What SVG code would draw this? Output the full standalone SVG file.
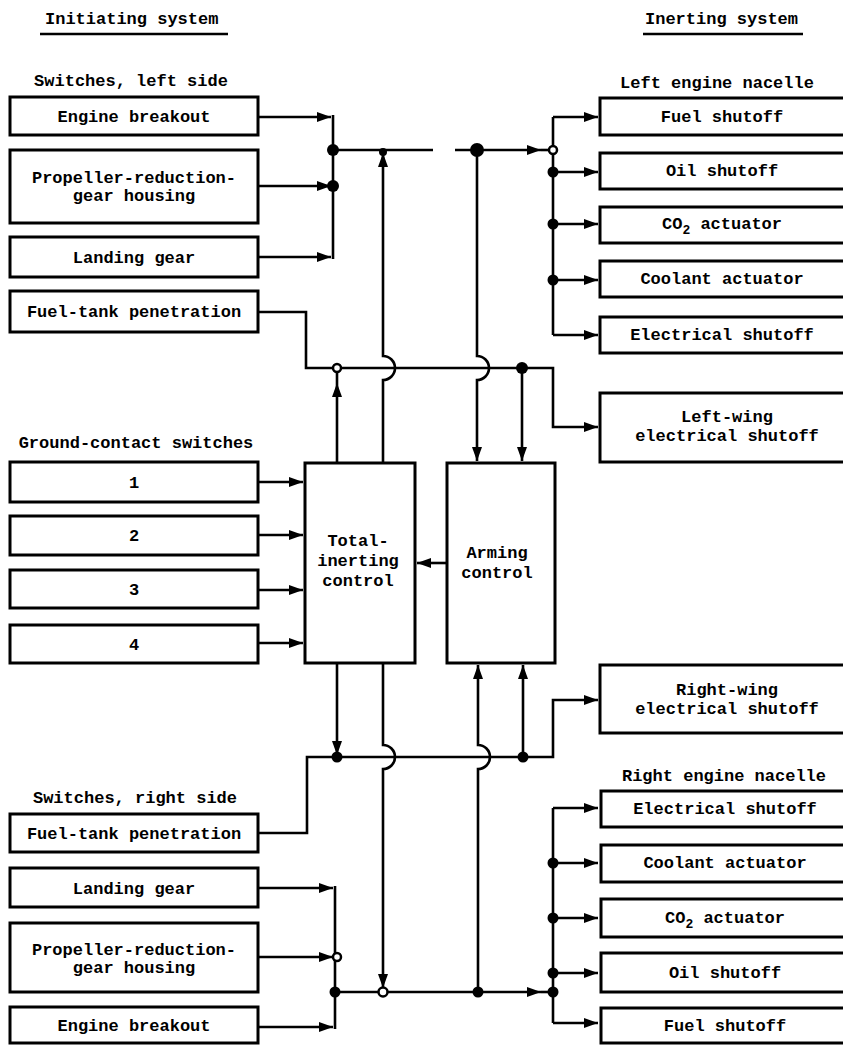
<svg xmlns="http://www.w3.org/2000/svg" width="843" height="1046" viewBox="0 0 843 1046">
<style>
text{font-family:"Liberation Mono","DejaVu Sans Mono",monospace;font-weight:bold;font-size:17px;fill:#000}
.m{text-anchor:middle}
.box{fill:#fff;stroke:#000;stroke-width:3}
.ln{fill:none;stroke:#000;stroke-width:2.6}
.dot{fill:#000}
.oc{fill:#fff;stroke:#000;stroke-width:2.5}
</style>
<defs>
<marker id="ar" viewBox="0 0 14 10" refX="14" refY="5" markerWidth="14" markerHeight="10" markerUnits="userSpaceOnUse" orient="auto">
<path d="M0,0 L14,5 L0,10 Z" fill="#000"/>
</marker>
</defs>
<rect width="843" height="1046" fill="#fff"/>

<g id="headers">
<text x="45" y="24">Initiating system</text>
<line x1="40" y1="34" x2="228" y2="34" stroke="#000" stroke-width="2.5"/>
<text x="645" y="24">Inerting system</text>
<line x1="643" y1="34" x2="803" y2="34" stroke="#000" stroke-width="2.5"/>
<text class="m" x="131" y="86">Switches, left side</text>
<text class="m" x="717" y="88">Left engine nacelle</text>
<text class="m" x="136" y="448">Ground-contact switches</text>
<text class="m" x="135" y="803">Switches, right side</text>
<text class="m" x="724" y="781">Right engine nacelle</text>
</g>

<g id="connectors">
<!-- top left inputs -->
<path class="ln" d="M258,117 H331" marker-end="url(#ar)"/>
<path class="ln" d="M258,186 H331" marker-end="url(#ar)"/>
<path class="ln" d="M258,257 H331" marker-end="url(#ar)"/>
<path class="ln" d="M333,115 V259"/>
<path class="ln" d="M333,150 H433"/>
<path class="ln" d="M455,150 H541" marker-end="url(#ar)"/>
<path class="ln" d="M541,150 H553"/>
<!-- left nacelle bus -->
<path class="ln" d="M553,117 V335"/>
<path class="ln" d="M553,117 H598" marker-end="url(#ar)"/>
<path class="ln" d="M553,172 H598" marker-end="url(#ar)"/>
<path class="ln" d="M553,224 H598" marker-end="url(#ar)"/>
<path class="ln" d="M553,280 H598" marker-end="url(#ar)"/>
<path class="ln" d="M553,335 H598" marker-end="url(#ar)"/>
<!-- vertical from total-inerting up -->
<path class="ln" d="M383,463 V380 A12,12 0 0 0 383,356 V153" marker-end="url(#ar)"/>
<!-- vertical down to arming -->
<path class="ln" d="M477,150 V356 A12,12 0 0 1 477,380 V461" marker-end="url(#ar)"/>
<path class="ln" d="M522,368 V461" marker-end="url(#ar)"/>
<!-- upper horizontal bus -->
<path class="ln" d="M258,312 H306 V368 H553 V427 H598" marker-end="url(#ar)"/>
<path class="ln" d="M337,463 V383" marker-end="url(#ar)"/>
<path class="ln" d="M337,383 V372"/>
<!-- ground contact switches -->
<path class="ln" d="M258,482 H303" marker-end="url(#ar)"/>
<path class="ln" d="M258,535 H303" marker-end="url(#ar)"/>
<path class="ln" d="M258,590 H303" marker-end="url(#ar)"/>
<path class="ln" d="M258,643 H303" marker-end="url(#ar)"/>
<!-- arming to total -->
<path class="ln" d="M447,563 H417" marker-end="url(#ar)"/>
<!-- lower part -->
<path class="ln" d="M337,663 V755" marker-end="url(#ar)"/>
<path class="ln" d="M383,663 V745 A12,12 0 0 1 383,769 V988" marker-end="url(#ar)"/>
<path class="ln" d="M258,833 H307 V757 H553 V700 H598" marker-end="url(#ar)"/>
<path class="ln" d="M478,992 V769 A12,12 0 0 0 478,745 V665" marker-end="url(#ar)"/>
<path class="ln" d="M523,757 V665" marker-end="url(#ar)"/>
<!-- bottom left inputs -->
<path class="ln" d="M258,888 H333" marker-end="url(#ar)"/>
<path class="ln" d="M258,957 H333" marker-end="url(#ar)"/>
<path class="ln" d="M258,1027 H333" marker-end="url(#ar)"/>
<path class="ln" d="M335,886 V1029"/>
<path class="ln" d="M335,992 H541" marker-end="url(#ar)"/>
<path class="ln" d="M541,992 H553"/>
<!-- right nacelle bus -->
<path class="ln" d="M553,808 V1023"/>
<path class="ln" d="M553,808 H598" marker-end="url(#ar)"/>
<path class="ln" d="M553,863 H598" marker-end="url(#ar)"/>
<path class="ln" d="M553,918 H598" marker-end="url(#ar)"/>
<path class="ln" d="M553,973 H598" marker-end="url(#ar)"/>
<path class="ln" d="M553,1023 H598" marker-end="url(#ar)"/>
<!-- junction dots -->
<circle class="dot" cx="333" cy="150" r="6"/>
<circle class="dot" cx="333" cy="186" r="6"/>
<circle class="dot" cx="383" cy="152" r="4"/>
<circle class="dot" cx="477" cy="150" r="7"/>
<circle class="oc" cx="553" cy="150" r="4"/>
<circle class="dot" cx="553" cy="172" r="5.5"/>
<circle class="dot" cx="553" cy="224" r="5.5"/>
<circle class="dot" cx="553" cy="280" r="5.5"/>
<circle class="oc" cx="337" cy="368" r="4"/>
<circle class="dot" cx="522" cy="368" r="6"/>
<circle class="dot" cx="337" cy="757" r="5.5"/>
<circle class="dot" cx="523" cy="757" r="5.5"/>
<circle class="oc" cx="337" cy="957" r="4"/>
<circle class="dot" cx="335" cy="992" r="5.5"/>
<circle class="oc" cx="383" cy="992" r="4.5"/>
<circle class="dot" cx="478" cy="992" r="5.5"/>
<circle class="dot" cx="553" cy="992" r="5.5"/>
<circle class="dot" cx="553" cy="863" r="5.5"/>
<circle class="dot" cx="553" cy="918" r="5.5"/>
<circle class="dot" cx="553" cy="973" r="5.5"/>
</g>

<g id="n-engine-breakout-l"><rect class="box" x="10" y="97" width="248" height="38"/><text class="m" x="134" y="122">Engine breakout</text></g>
<g id="n-propeller-l"><rect class="box" x="10" y="150" width="248" height="73"/><text class="m" x="134" y="183">Propeller-reduction-</text><text class="m" x="134" y="201">gear housing</text></g>
<g id="n-landing-gear-l"><rect class="box" x="10" y="237" width="248" height="40"/><text class="m" x="134" y="263">Landing gear</text></g>
<g id="n-fuel-tank-l"><rect class="box" x="10" y="291" width="248" height="41"/><text class="m" x="134" y="317">Fuel-tank penetration</text></g>

<g id="n-gc1"><rect class="box" x="10" y="462" width="248" height="40"/><text class="m" x="134" y="488">1</text></g>
<g id="n-gc2"><rect class="box" x="10" y="516" width="248" height="39"/><text class="m" x="134" y="541">2</text></g>
<g id="n-gc3"><rect class="box" x="10" y="570" width="248" height="38"/><text class="m" x="134" y="595">3</text></g>
<g id="n-gc4"><rect class="box" x="10" y="625" width="248" height="38"/><text class="m" x="134" y="650">4</text></g>

<g id="n-total-inerting"><rect class="box" x="305" y="463" width="110" height="200"/><text class="m" x="358" y="546">Total-</text><text class="m" x="358" y="566">inerting</text><text class="m" x="358" y="586">control</text></g>
<g id="n-arming"><rect class="box" x="447" y="463" width="108" height="200"/><text class="m" x="497" y="558">Arming</text><text class="m" x="497" y="578">control</text></g>

<g id="n-fuel-tank-r"><rect class="box" x="10" y="814" width="248" height="38"/><text class="m" x="134" y="839">Fuel-tank penetration</text></g>
<g id="n-landing-gear-r"><rect class="box" x="10" y="868" width="248" height="39"/><text class="m" x="134" y="894">Landing gear</text></g>
<g id="n-propeller-r"><rect class="box" x="10" y="923" width="248" height="69"/><text class="m" x="134" y="955">Propeller-reduction-</text><text class="m" x="134" y="973">gear housing</text></g>
<g id="n-engine-breakout-r"><rect class="box" x="10" y="1007" width="248" height="36"/><text class="m" x="134" y="1031">Engine breakout</text></g>

<g id="n-fuel-shutoff-l"><rect class="box" x="600" y="98" width="260" height="37"/><text class="m" x="722" y="122">Fuel shutoff</text></g>
<g id="n-oil-shutoff-l"><rect class="box" x="600" y="153" width="260" height="36"/><text class="m" x="722" y="176">Oil shutoff</text></g>
<g id="n-co2-l"><rect class="box" x="600" y="207" width="260" height="36"/><text class="m" x="722" y="229">CO<tspan dy="5" font-size="13">2</tspan><tspan dy="-5"> actuator</tspan></text></g>
<g id="n-coolant-l"><rect class="box" x="600" y="261" width="260" height="36"/><text class="m" x="722" y="284">Coolant actuator</text></g>
<g id="n-elec-shutoff-l"><rect class="box" x="600" y="317" width="260" height="36"/><text class="m" x="722" y="340">Electrical shutoff</text></g>
<g id="n-left-wing"><rect class="box" x="600" y="393" width="260" height="69"/><text class="m" x="727" y="422">Left-wing</text><text class="m" x="727" y="441">electrical shutoff</text></g>

<g id="n-right-wing"><rect class="box" x="600" y="665" width="260" height="68"/><text class="m" x="727" y="695">Right-wing</text><text class="m" x="727" y="714">electrical shutoff</text></g>
<g id="n-elec-shutoff-r"><rect class="box" x="601" y="791" width="260" height="36"/><text class="m" x="725" y="814">Electrical shutoff</text></g>
<g id="n-coolant-r"><rect class="box" x="601" y="845" width="260" height="37"/><text class="m" x="725" y="868">Coolant actuator</text></g>
<g id="n-co2-r"><rect class="box" x="601" y="899" width="260" height="38"/><text class="m" x="725" y="923">CO<tspan dy="5" font-size="13">2</tspan><tspan dy="-5"> actuator</tspan></text></g>
<g id="n-oil-shutoff-r"><rect class="box" x="601" y="953" width="260" height="39"/><text class="m" x="725" y="978">Oil shutoff</text></g>
<g id="n-fuel-shutoff-r"><rect class="box" x="601" y="1008" width="260" height="35"/><text class="m" x="725" y="1031">Fuel shutoff</text></g>
</svg>
